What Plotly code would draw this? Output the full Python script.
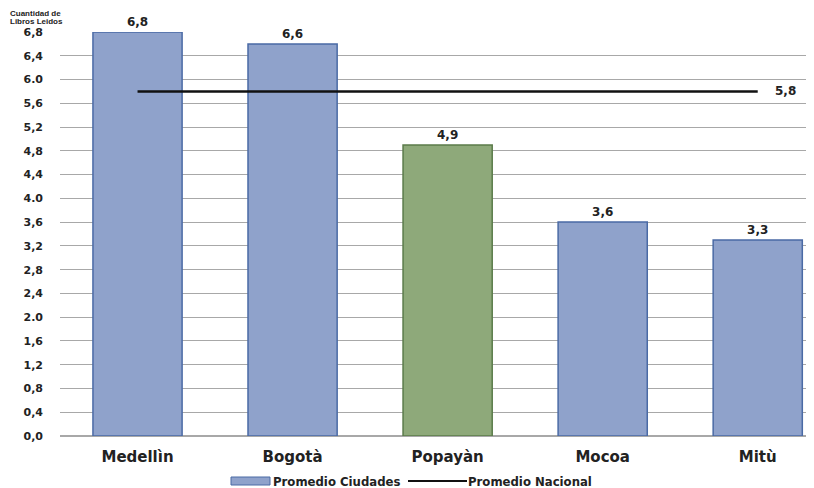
import plotly.graph_objects as go

cities = ["Medellìn", "Bogotà", "Popayàn", "Mocoa", "Mitù"]
values = [6.8, 6.6, 4.9, 3.6, 3.3]
national = 5.8
tick_vals = [0.0, 0.4, 0.8, 1.2, 1.6, 2.0, 2.4, 2.8, 3.2, 3.6, 4.0, 4.4, 4.8, 5.2, 5.6, 6.0, 6.4, 6.8]
tick_text = ["0,0", "0,4", "0,8", "1,2", "1,6", "2.0", "2,4", "2,8", "3,2", "3,6", "4.0", "4,4", "4,8", "5,2", "5,6", "6.0", "6,4", "6,8"]
axis_title_lines = ["Cuantidad de", "Libros Leidos"]

fill = ["#8FA2CB", "#8FA2CB", "#8EA97A", "#8FA2CB", "#8FA2CB"]
edge = ["#4A6AA5", "#4A6AA5", "#5B7B4A", "#4A6AA5", "#4A6AA5"]
blue_fill, blue_edge = fill[0], edge[0]

OFF = 8  # page body margin
W, H = 814 - OFF, 488 - OFF
L, T = 60 - OFF, 32 - OFF
R = W - (812 - OFF)
B = H - (436 - OFF)
pw, ph = W - L - R, H - T - B


def px(x):
    return (x - OFF - L) / pw


def py(y):
    return (H - B - (y - OFF)) / ph


fig = go.Figure()
fig.add_trace(go.Bar(
    x=cities, y=values, name="Promedio Ciudades",
    marker=dict(color=fill, line=dict(color=edge, width=1.5)),
    width=0.575,
    texttemplate="%{y:.1f}", textposition="outside", cliponaxis=False,
    textfont=dict(family="DejaVu Sans", size=12, color="#222", weight="bold"),
))
fig.add_trace(go.Scatter(
    x=[cities[0], cities[-1]], y=[national, national], mode="lines",
    name="Promedio Nacional", line=dict(color="#111", width=2.5),
))
fig.add_annotation(x=4.18, y=national, xref="x", yref="y", text="5,8", showarrow=False,
                   font=dict(family="DejaVu Sans", size=12, color="#222", weight="bold"))
title_font = dict(family="Liberation Sans", size=8, color="#222", weight="bold")
for line_text, ly in zip(axis_title_lines, [13.5, 21.5]):
    fig.add_annotation(x=px(9), y=py(ly), xref="paper", yref="paper", xanchor="left",
                       yanchor="middle", text=line_text, showarrow=False, font=title_font,
                       borderpad=0)

# custom legend
legend_font = dict(family="DejaVu Sans Condensed", size=13, color="#222", weight="bold")
fig.add_shape(type="rect", xref="paper", yref="paper",
              x0=px(231), x1=px(270), y0=py(485), y1=py(477),
              fillcolor=blue_fill, line=dict(color=blue_edge, width=1))
fig.add_annotation(x=px(271), y=py(481), xref="paper", yref="paper", xanchor="left",
                   yanchor="middle", text="Promedio Ciudades", showarrow=False, font=legend_font)
fig.add_shape(type="line", xref="paper", yref="paper",
              x0=px(408), x1=px(467), y0=py(481), y1=py(481),
              line=dict(color="#111", width=2))
fig.add_annotation(x=px(466), y=py(481), xref="paper", yref="paper", xanchor="left",
                   yanchor="middle", text="Promedio Nacional", showarrow=False, font=legend_font)

fig.update_layout(
    width=W, height=H,
    margin=dict(l=L, r=R, t=T, b=B),
    paper_bgcolor="white", plot_bgcolor="white",
    separators=",.",
    showlegend=False,
    xaxis=dict(range=[-0.5, 4.35], showgrid=False, showline=False, ticks="", automargin=False,
               ticklabelstandoff=10,
               tickfont=dict(family="DejaVu Sans", size=15, color="#222", weight="bold")),
    yaxis=dict(range=[0, 6.8], tickvals=tick_vals, ticktext=tick_text, automargin=False,
               showgrid=True, gridcolor="#A8A8A8", gridwidth=1, zeroline=True,
               zerolinecolor="#A8A8A8", ticks="", ticklabelstandoff=16,
               tickfont=dict(family="DejaVu Sans", size=11, color="#222", weight="bold")),
)
fig.write_html("out.html")
